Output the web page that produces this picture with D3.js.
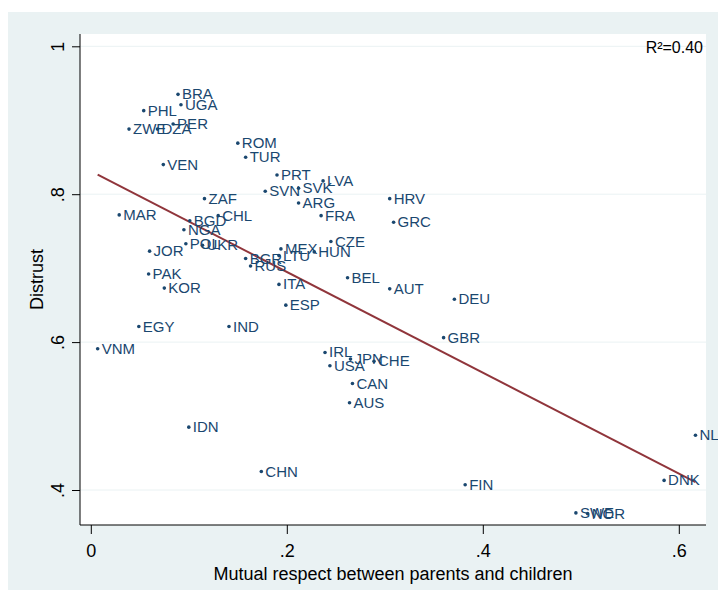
<!DOCTYPE html>
<html>
<head>
<meta charset="utf-8">
<script src="https://cdn.jsdelivr.net/npm/d3@7"></script>
<style>
  body { margin: 0; background: #fff; }
  text { font-family: "Liberation Sans", Arial, sans-serif; }
</style>
</head>
<body>
<div id="scatter"></div>
<script>
// country codes, mutual respect (x) and distrust (y)
var countries = ["BRA","UGA","PHL","ZWE","DZA","PER","ROM","TUR","VEN","PRT",
  "LVA","SVK","SVN","ARG","FRA","HRV","GRC","ZAF","MAR","CHL",
  "BGD","NGA","POL","UKR","JOR","CZE","MEX","LTU","HUN","BGR",
  "RUS","PAK","BEL","ITA","AUT","KOR","DEU","ESP","EGY","IND",
  "GBR","VNM","IRL","JPN","CHE","USA","CAN","AUS","IDN","CHN",
  "NL","DNK","FIN","SWE","NOR"];
var respect = [0.089,0.092,0.054,0.039,0.068,0.084,0.150,0.158,0.074,0.190,
  0.237,0.212,0.178,0.212,0.235,0.305,0.309,0.116,0.029,0.130,
  0.101,0.095,0.097,0.114,0.060,0.245,0.194,0.192,0.228,0.158,
  0.163,0.059,0.262,0.192,0.305,0.075,0.371,0.199,0.049,0.141,
  0.360,0.007,0.239,0.265,0.289,0.244,0.267,0.264,0.100,0.174,
  0.617,0.585,0.382,0.495,0.507];
var distrust = [0.935,0.921,0.913,0.888,0.888,0.895,0.869,0.850,0.840,0.826,
  0.818,0.808,0.804,0.788,0.771,0.794,0.762,0.794,0.772,0.771,
  0.764,0.752,0.733,0.731,0.723,0.736,0.726,0.717,0.722,0.713,
  0.703,0.692,0.687,0.678,0.672,0.673,0.658,0.650,0.621,0.621,
  0.606,0.591,0.586,0.577,0.574,0.568,0.544,0.518,0.485,0.425,
  0.474,0.413,0.407,0.369,0.368];
var xTicks = [0, 0.2, 0.4, 0.6];
var yTicks = [0.4, 0.6, 0.8, 1];
var r2Label = "R\u00b2=0.40";
var xTitle = "Mutual respect between parents and children";
var yTitle = "Distrust";

var props = {
  width: 718, height: 601,
  left: 80, right: 706, top: 34, bottom: 525
};

var navy = "#1a476f", maroon = "#90353b", bg = "#eaf2f3";

function tickFmt(v){
  return v == 0 ? "0" : v == 1 ? "1" : d3.format(".1f")(v).replace(/^0/, "");
}

var points = countries.map(function(c, i){
  return {id: c, x: respect[i], y: distrust[i]};
});

var svg = d3.select("#scatter").append("svg")
  .attr("width", props.width)
  .attr("height", props.height);

svg.append("rect").attr("x", 8).attr("y", 12)
  .attr("width", props.width - 8).attr("height", 578)
  .attr("fill", bg);
svg.append("rect").attr("x", props.left).attr("y", props.top)
  .attr("width", props.right - props.left).attr("height", props.bottom - props.top)
  .attr("fill", "#fff");

var x = d3.scaleLinear().domain([0, 0.6]).range([90.8, 678.8]);
var y = d3.scaleLinear().domain([0.4, 1]).range([490, 46.3]);

// gridlines
svg.append("g").selectAll("line").data(yTicks).enter().append("line")
  .attr("x1", props.left).attr("x2", props.right)
  .attr("y1", function(d){ return y(d); })
  .attr("y2", function(d){ return y(d); })
  .attr("stroke", bg).attr("stroke-width", 1);

// axes
var yAxis = svg.append("g")
  .attr("transform", "translate(" + props.left + ",0)")
  .call(d3.axisLeft(y).tickValues(yTicks).tickSize(8).tickFormat(tickFmt));
yAxis.select(".domain").attr("d", "M0," + props.top + "V" + props.bottom);
yAxis.selectAll(".tick text")
  .attr("x", 0).attr("dy", 0)
  .attr("transform", "translate(-16,0) rotate(-90)")
  .attr("text-anchor", "middle")
  .style("font-size", "18px")
  .attr("fill", "#000");

var xAxis = svg.append("g")
  .attr("transform", "translate(0," + props.bottom + ")")
  .call(d3.axisBottom(x).tickValues(xTicks).tickSize(9).tickFormat(tickFmt));
xAxis.select(".domain").attr("d", "M" + props.left + ",0H" + props.right);
xAxis.selectAll(".tick text")
  .attr("y", 32).attr("dy", 0)
  .style("font-size", "18px")
  .attr("fill", "#000");
svg.selectAll(".domain, .tick line").attr("stroke", "#000");

svg.append("text")
  .attr("x", (props.left + props.right) / 2).attr("y", 580)
  .attr("text-anchor", "middle")
  .style("font-size", "18px")
  .text(xTitle);
svg.append("text")
  .attr("transform", "translate(43," + (props.top + props.bottom) / 2 + ") rotate(-90)")
  .attr("text-anchor", "middle")
  .style("font-size", "18px")
  .text(yTitle);

// fitted line (OLS over the points)
var mx = d3.mean(points, function(d){ return d.x; });
var my = d3.mean(points, function(d){ return d.y; });
var sxy = d3.sum(points, function(d){ return (d.x - mx) * (d.y - my); });
var sxx = d3.sum(points, function(d){ return (d.x - mx) * (d.x - mx); });
var slope = sxy / sxx;
var intercept = my - slope * mx;
var xExt = d3.extent(points, function(d){ return d.x; });

svg.append("line")
  .attr("x1", x(xExt[0])).attr("y1", y(intercept + slope * xExt[0]))
  .attr("x2", x(xExt[1])).attr("y2", y(intercept + slope * xExt[1]))
  .attr("stroke", maroon).attr("stroke-width", 2);

// points and labels
var pts = svg.append("g").selectAll(".pt").data(points).enter().append("g")
  .attr("class", "pt")
  .attr("transform", function(d){ return "translate(" + x(d.x) + "," + y(d.y) + ")"; });
pts.append("circle").attr("r", 1.8).attr("fill", navy);
pts.append("text")
  .attr("x", 4).attr("y", 5)
  .style("font-size", "15px")
  .attr("fill", navy)
  .text(function(d){ return d.id; });

svg.append("text")
  .attr("x", 703).attr("y", 53)
  .attr("text-anchor", "end")
  .style("font-size", "16px")
  .text(r2Label);
</script>
</body>
</html>
